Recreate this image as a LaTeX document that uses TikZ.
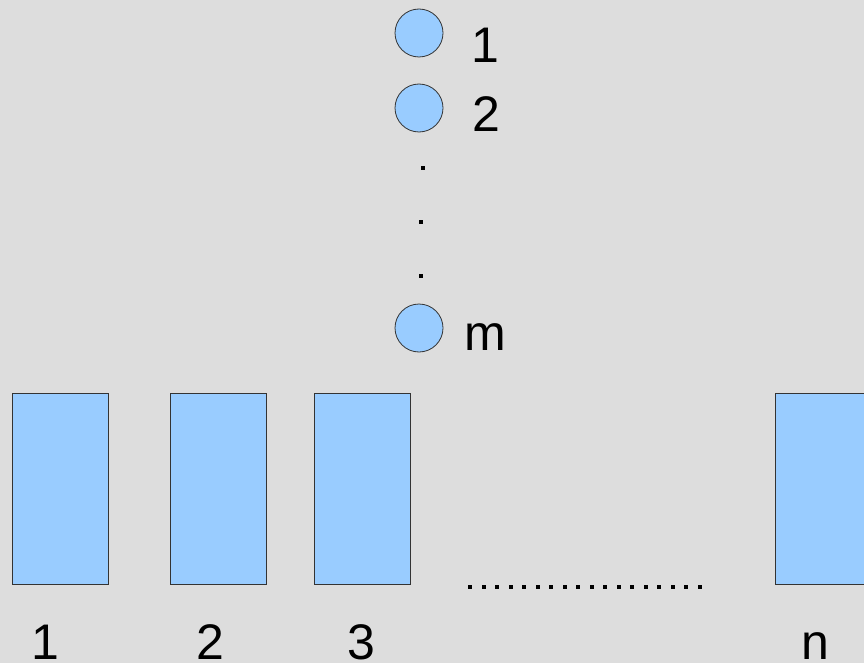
\documentclass[tikz,border=0pt]{standalone}
\usepackage{fontspec}
\setmainfont{Liberation Sans}
\usepackage{tikz}
\definecolor{slotblue}{HTML}{99CCFF}
\definecolor{slotbg}{HTML}{DDDDDD}
\tikzset{
	slot/.style={draw=black!80, fill=slotblue, line width=0.8pt},
	lbl/.style={font=\fontsize{50}{50}\selectfont, inner sep=0pt, anchor=base}
}

\begin{document}
\begin{tikzpicture}[x=1pt, y=-1pt]
			%%%%% START %%%%%
			
			\fill[slotbg] (0, 0) rectangle (864, 663);
			\useasboundingbox (0, 0) rectangle (864, 663);
			\clip (0, 0) rectangle (864, 663);
			
			\draw[slot] (419, 33) circle (24);
			\node[lbl] (c1) at (485, 63) {1};
			
			\draw[slot] (419, 108) circle (24);
			\node[lbl] (c2) at (486, 132) {2};
			
			\fill (421, 166) rectangle +(4, 4);
			\fill (419, 220) rectangle +(4, 4);
			\fill (419, 274) rectangle +(4, 4);
			
			\draw[slot] (419, 328) circle (24);
			\node[lbl] (cm) at (485, 350) {m};
			
			\draw[slot] (12, 393) rectangle (108, 584);
			\draw[slot] (170, 393) rectangle (266, 584);
			\draw[slot] (314, 393) rectangle (410, 584);
			\draw[slot] (775, 393) rectangle (872, 584);
			
			\foreach \x in {0,...,17} {
				\fill (468+\x*13.5, 585) rectangle +(4, 4);
			}
			
			\node[lbl] (b1) at (45, 659) {1};
			\node[lbl] (b2) at (210, 659) {2};
			\node[lbl] (b3) at (361, 659) {3};
			\node[lbl] (bn) at (815, 659) {n};
			
			%%%%% END %%%%%
\end{tikzpicture}
\end{document}
